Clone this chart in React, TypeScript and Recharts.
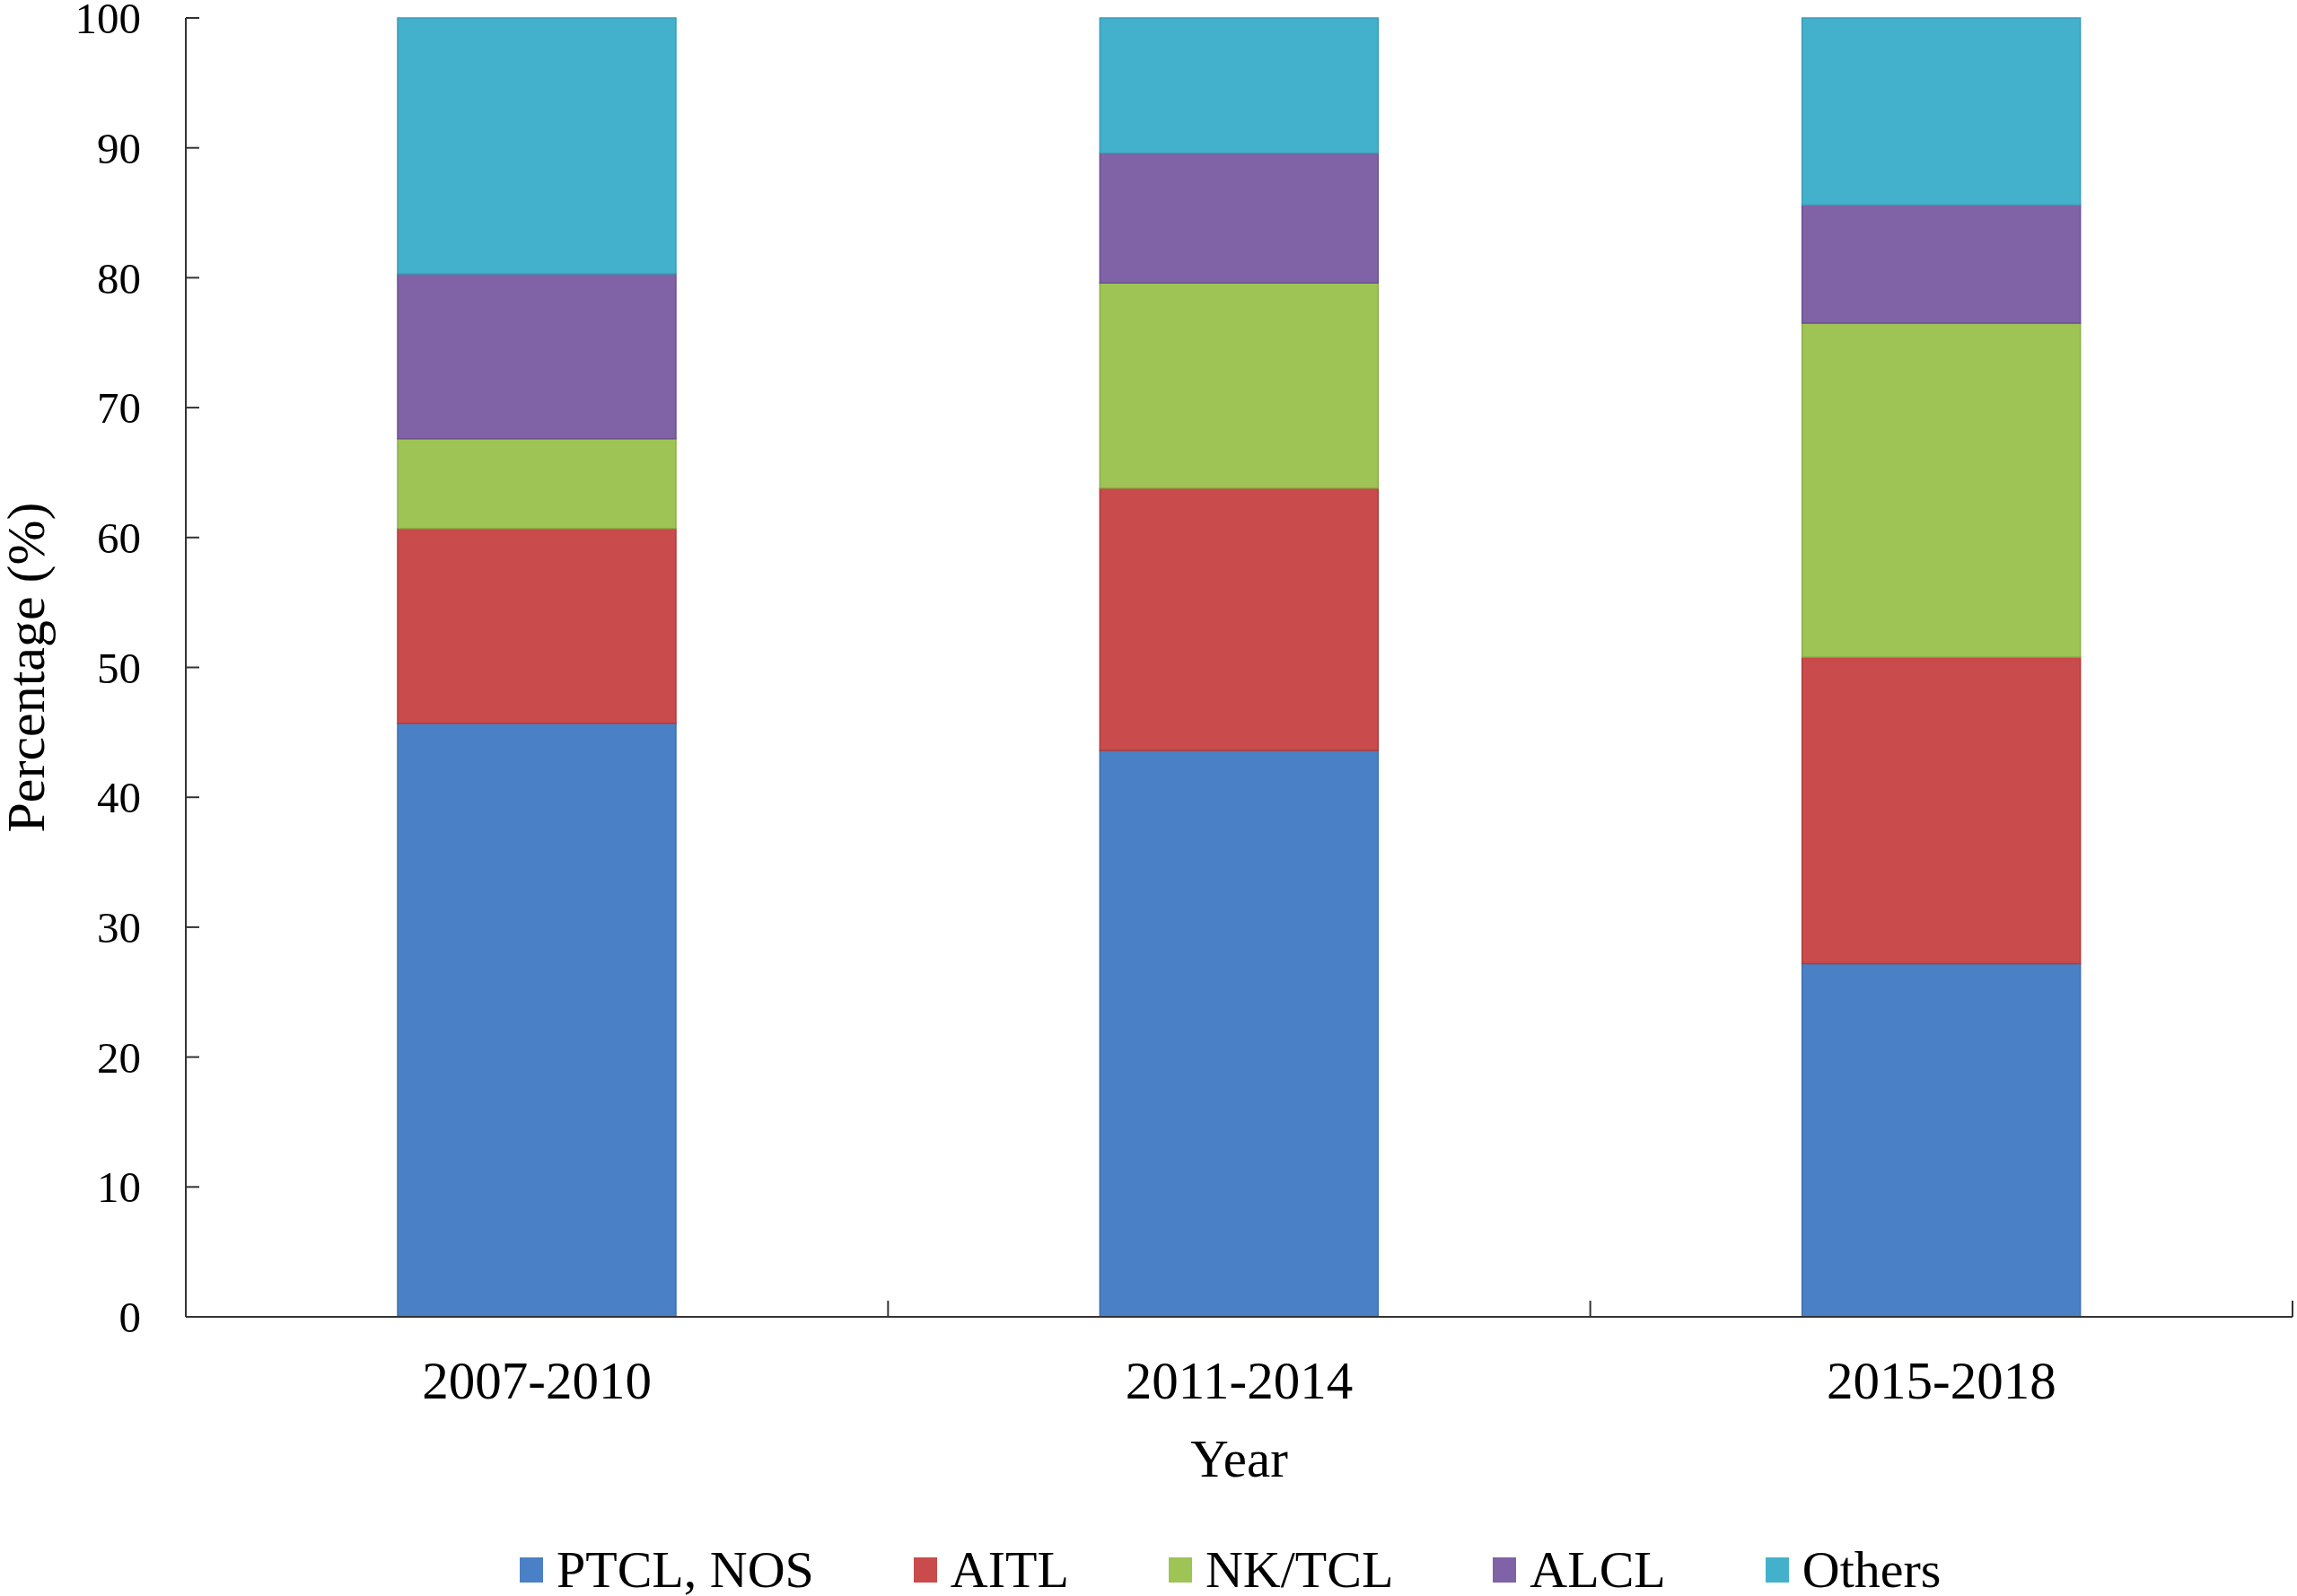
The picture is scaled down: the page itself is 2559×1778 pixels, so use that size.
import React from "react";
import { BarChart, Bar, XAxis, YAxis, Legend } from "recharts";

const YEARS = ["2007-2010", "2011-2014", "2015-2018"];
const PTCL_NOS = [45.7, 43.6, 27.2];
const AITL = [15.0, 20.2, 23.6];
const NK_TCL = [6.9, 15.8, 25.7];
const ALCL = [12.7, 10.0, 9.1];
const OTHERS = [19.7, 10.4, 14.4];
const Y_TICKS = [0, 10, 20, 30, 40, 50, 60, 70, 80, 90, 100];

const SERIES = [
  { key: "ptcl", name: "PTCL, NOS", values: PTCL_NOS, fill: "#4A80C6", stroke: "#3F6FAE" },
  { key: "aitl", name: "AITL", values: AITL, fill: "#C94B4B", stroke: "#B03C3C" },
  { key: "nktcl", name: "NK/TCL", values: NK_TCL, fill: "#9EC456", stroke: "#8AAE48" },
  { key: "alcl", name: "ALCL", values: ALCL, fill: "#8062A6", stroke: "#6C5190" },
  { key: "others", name: "Others", values: OTHERS, fill: "#44B1CC", stroke: "#3A9DB6" },
];

const data = YEARS.map((year, i) => {
  const row: Record<string, string | number> = { year };
  SERIES.forEach((s) => (row[s.key] = s.values[i]));
  return row;
});

const W = 2559;
const H = 1778;
const MARGIN = { top: 20, right: 5, left: 0, bottom: 0 };
const Y_AXIS_W = 207;
const X_AXIS_H = 180;
const LEGEND_H = 131;
const FONT = "'Liberation Serif', 'Times New Roman', serif";
const AXIS_COLOR = "#333";
const HALF_BAND = (W - MARGIN.left - MARGIN.right - Y_AXIS_W) / YEARS.length / 2;

function YTick(props: any) {
  const { x, y, payload } = props;
  return (
    <g>
      <line x1={x} x2={x + 15} y1={y} y2={y} stroke={AXIS_COLOR} strokeWidth={2} />
      <text x={x - 50} y={y} dy="0.35em" textAnchor="end" fontSize={49} fontFamily={FONT} fill="#000">
        {payload.value}
      </text>
    </g>
  );
}

function XTick(props: any) {
  const { x, y, payload } = props;
  return (
    <g>
      <line x1={x + HALF_BAND} x2={x + HALF_BAND} y1={y} y2={y - 18} stroke={AXIS_COLOR} strokeWidth={2} />
      <text x={x} y={y + 70} dy="0.35em" textAnchor="middle" fontSize={59} fontFamily={FONT} fill="#000">
        {payload.value}
      </text>
    </g>
  );
}

function YLabel(props: any) {
  const vb = props.viewBox || {};
  const cx = 29;
  const cy = vb.y + vb.height / 2;
  return (
    <text
      x={cx}
      y={cy}
      transform={`rotate(-90, ${cx}, ${cy})`}
      textAnchor="middle"
      dominantBaseline="central"
      fontSize={60}
      fontFamily={FONT}
      fill="#000"
    >
      Percentage (%)
    </text>
  );
}

function LegendContent(props: any) {
  const payload = props.payload || [];
  const items = SERIES.map((s) => payload.find((p: any) => p.value === s.name) || { value: s.name, color: s.fill });
  return (
    <div
      style={{
        height: LEGEND_H,
        boxSizing: "border-box",
        paddingTop: 72,
        paddingLeft: 579,
        display: "flex",
        gap: 111,
        fontFamily: FONT,
        fontSize: 58,
        lineHeight: "58px",
        color: "#000",
        whiteSpace: "nowrap",
      }}
    >
      {items.map((it: any) => (
        <div key={it.value} style={{ display: "flex", alignItems: "center" }}>
          <span style={{ display: "inline-block", width: 26, height: 28, background: it.color, marginRight: 15 }} />
          {it.value}
        </div>
      ))}
    </div>
  );
}

export default function App() {
  return (
    <div style={{ width: W, height: H, background: "#fff" }}>
      <style>{"body{margin:0}"}</style>
      <BarChart width={W} height={H} data={data} margin={MARGIN}>
        <XAxis
          dataKey="year"
          height={X_AXIS_H}
          tick={<XTick />}
          tickLine={false}
          tickSize={0}
          tickMargin={0}
          interval={0}
          axisLine={{ stroke: AXIS_COLOR, strokeWidth: 2 }}
          label={{ value: "Year", position: "insideBottom", offset: 2, fontSize: 59, fontFamily: FONT, fill: "#000" }}
        />
        <YAxis
          width={Y_AXIS_W}
          domain={[0, 100]}
          ticks={Y_TICKS}
          interval={0}
          tick={<YTick />}
          tickLine={false}
          tickSize={0}
          tickMargin={0}
          axisLine={{ stroke: AXIS_COLOR, strokeWidth: 2 }}
          label={<YLabel />}
        />
        <Legend verticalAlign="bottom" height={LEGEND_H} content={<LegendContent />} />
        {SERIES.map((s) => (
          <Bar
            key={s.key}
            dataKey={s.key}
            name={s.name}
            stackId="a"
            fill={s.fill}
            stroke={s.stroke}
            strokeWidth={1.5}
            barSize={310}
            isAnimationActive={false}
          />
        ))}
      </BarChart>
    </div>
  );
}
